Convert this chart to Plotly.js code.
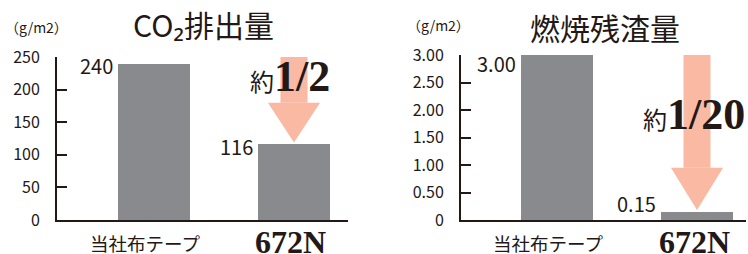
<!DOCTYPE html>
<html><head><meta charset="utf-8">
<script src="https://cdn.plot.ly/plotly-3.0.1.min.js"></script>
<style>html,body{margin:0;padding:0;background:#fff}#c{width:748px;height:254px}</style>
</head><body><div id="c"></div>
<script>
// ---- data ----
const categories = ['当社布テープ', '672N'];
const co2Values = [240, 116];
const residueValues = [3.00, 0.15];
const co2Labels = ['240', '116'];
const residueLabels = ['3.00', '0.15'];
const co2Ticks = [0, 50, 100, 150, 200, 250];
const co2TickText = ['0', '50', '100', '150', '200', '250'];
const residueTicks = [0, 0.5, 1.0, 1.5, 2.0, 2.5, 3.0];
const residueTickText = ['0', '0.50', '1.00', '1.50', '2.00', '2.50', '3.00'];
const chartTitles = ['CO₂排出量', '燃焼残渣量'];
const unitLabel = '（g/m2）';
const reductionText = ['1/2', '1/20'];
const aboutText = '約';

// ---- style ----
const INK = '#231815';
const BAR = '#898a8e';
const ARROW = '#f9b9a3';
const JP = '"Noto Sans CJK JP", "Noto Sans", sans-serif';
const SERIF = '"Liberation Serif", "DejaVu Serif", serif';
const SERIF_CSS = SERIF.replace(/"/g, "'");
const BW = 0.514;
const xIdx = categories.map((c, i) => i);

const traces = [
  {type: 'bar', x: xIdx, y: co2Values, width: BW, marker: {color: BAR}, xaxis: 'x', yaxis: 'y', hoverinfo: 'skip'},
  {type: 'bar', x: xIdx, y: residueValues, width: BW, marker: {color: BAR}, xaxis: 'x2', yaxis: 'y2', hoverinfo: 'skip'}
];

function xax(domain, range, anchor) {
  return {domain: domain, range: range, anchor: anchor, tickvals: xIdx, showticklabels: false,
    showline: true, linecolor: INK, linewidth: 2, ticks: '', showgrid: false, zeroline: false, fixedrange: true};
}
function yax(domain, range, tv, tt, anchor) {
  return {domain: domain, range: range, tickvals: tv, ticktext: tt, anchor: anchor,
    showline: true, linecolor: INK, linewidth: 2, ticks: 'inside', ticklen: 10, tickwidth: 2, tickcolor: INK,
    showgrid: false, zeroline: false, ticklabelstandoff: 12,
    tickfont: {family: JP, size: 16, color: INK}, fixedrange: true};
}

function arrow(xr, yr, x, top, headTop, tip) {
  const sw = 0.0965, hw = 0.186;
  return [
    {type: 'rect', xref: xr, yref: yr, x0: x - sw, x1: x + sw, y0: headTop, y1: top,
     fillcolor: ARROW, line: {width: 0}, layer: 'above'},
    {type: 'path', xref: xr, yref: yr,
     path: 'M' + (x - hw) + ',' + headTop + ' L' + (x + hw) + ',' + headTop + ' L' + x + ',' + tip + ' Z',
     fillcolor: ARROW, line: {width: 0}, layer: 'above'}
  ];
}

const shapes = [].concat(
  arrow('x', 'y', 1, 260, co2Values[1] + 64, co2Values[1] + 3),
  arrow('x2', 'y2', 1, 3.1, residueValues[1] + 0.8, residueValues[1] + 0.03)
);

const annotations = [];
function valueLabels(xr, yr, vals, labels, yshifts) {
  vals.forEach((v, i) => annotations.push({xref: xr, yref: yr, x: i - BW / 2, y: v,
    text: labels[i], showarrow: false, xanchor: 'right', yanchor: 'middle', xshift: -3, yshift: yshifts[i],
    font: {family: JP, size: 20, color: INK}}));
}
valueLabels('x', 'y', co2Values, co2Labels, [-2, -2]);
valueLabels('x2', 'y2', residueValues, residueLabels, [-9, 8]);

function categoryLabels(xr) {
  categories.forEach((c, i) => annotations.push({xref: xr, yref: 'paper', x: i, y: 0.045,
    xanchor: 'center', yanchor: 'middle', showarrow: false, xshift: i === 0 ? -9 : -3,
    yshift: i === 0 ? 0 : 1,
    text: i === 1 ? '<b>' + c + '</b>' : c,
    font: i === 1 ? {family: SERIF, size: 32, color: INK} : {family: JP, size: 18.5, color: INK}}));
}
categoryLabels('x');
categoryLabels('x2');

function bigText(xr, yr, x, y, t) {
  annotations.push({xref: xr, yref: yr, x: x, y: y, xanchor: 'left', yanchor: 'middle', showarrow: false,
    yshift: 3,
    text: '<span style="font-size:24px">' + aboutText + '</span><span style="font-family:' + SERIF_CSS + ';font-size:44px"><b>' + t + '</b></span>',
    font: {family: JP, size: 24, color: INK}});
}
bigText('x', 'y', 0.67, 216, reductionText[0]);
bigText('x2', 'y2', 0.6, 1.87, reductionText[1]);

[[0.2727, 0.905], [0.8088, 0.894]].forEach((p, i) => annotations.push({xref: 'paper', yref: 'paper',
  x: p[0], y: p[1], xanchor: 'center', yanchor: 'middle', showarrow: false, text: chartTitles[i],
  font: {family: JP, size: 30, color: INK}}));
[[0.004, 0.894], [0.541, 0.902]].forEach(p => annotations.push({xref: 'paper', yref: 'paper',
  x: p[0], y: p[1], xanchor: 'left', yanchor: 'middle', showarrow: false, text: unitLabel,
  font: {family: JP, size: 14, color: INK}}));

const layout = {
  width: 748, height: 254, margin: {l: 0, r: 0, t: 0, b: 0},
  paper_bgcolor: '#fff', plot_bgcolor: '#fff', showlegend: false, bargap: 0,
  xaxis: xax([57 / 748, 348 / 748], [-0.693, 1.386], 'y'),
  yaxis: yax([34 / 254, 197 / 254], [0, 250], co2Ticks, co2TickText, 'x'),
  xaxis2: xax([461 / 748, 746 / 748], [-0.686, 1.35], 'y2'),
  yaxis2: yax([34 / 254, 199 / 254], [0, 3], residueTicks, residueTickText, 'x2'),
  shapes: shapes, annotations: annotations
};

Plotly.newPlot('c', traces, layout, {displayModeBar: false, staticPlot: true});
</script></body></html>
